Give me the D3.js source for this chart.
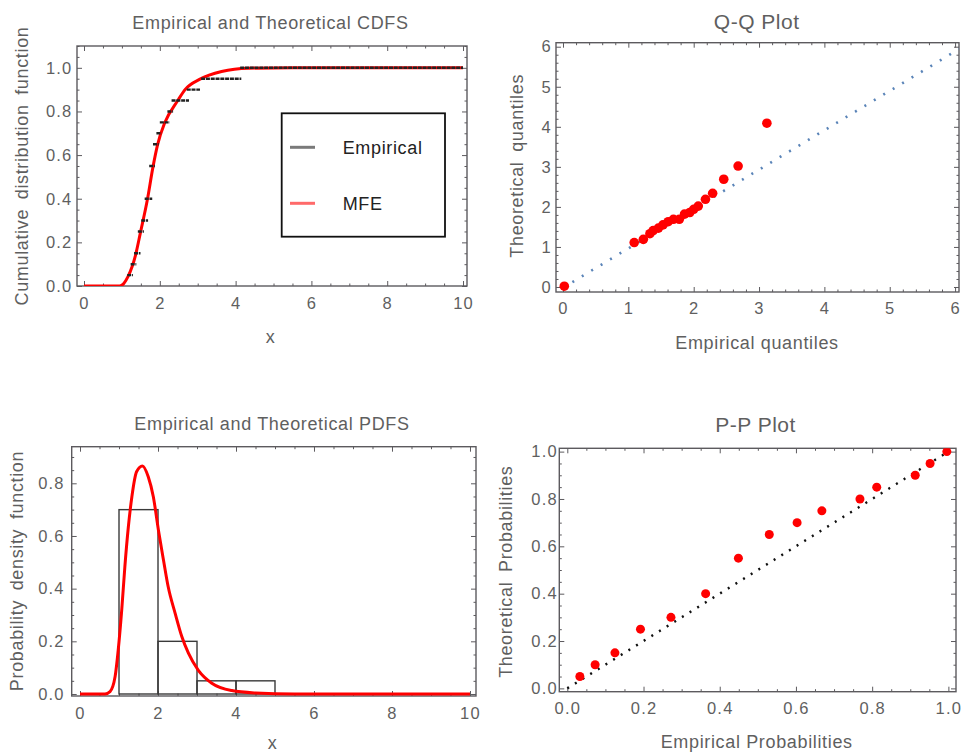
<!DOCTYPE html>
<html>
<head>
<meta charset="utf-8">
<script src="https://cdn.jsdelivr.net/npm/d3@7"></script>
<style>
body { margin: 0; background: #fff; }
text { font-family: "Liberation Sans", Arial, sans-serif; }
</style>
</head>
<body>
<div id="main_content"></div>
<script>
// ---- data ----
// empirical cdf steps
var stepStart = [1.14, 1.23, 1.32, 1.42, 1.51, 1.60, 1.72, 1.82, 1.91, 2.00, 2.20, 2.31, 2.71, 3.09, 4.12];
var stepEnd   = [1.29, 1.38, 1.49, 1.58, 1.69, 1.80, 1.87, 1.97, 2.04, 2.26, 2.35, 2.77, 3.06, 4.15, 10.0];
var stepLevel = [0.05, 0.10, 0.15, 0.25, 0.30, 0.40, 0.55, 0.65, 0.70, 0.75, 0.80, 0.85, 0.90, 0.95, 1.00];

// fitted (MFE) cdf
var cdfX = [0, 0.94, 1.05, 1.16, 1.36, 1.49, 1.67, 1.82, 1.94, 2.13, 2.47, 2.66, 3.06, 3.63, 4.34, 5.5, 10];
var cdfY = [0, 0, 0.012, 0.043, 0.142, 0.246, 0.394, 0.546, 0.647, 0.748, 0.849, 0.899, 0.948, 0.983, 0.998, 1.0, 1.0];

// fitted pdf
var pdfX = [0, 0.64, 0.77, 0.90, 0.98, 1.07, 1.15, 1.24, 1.33, 1.45, 1.60, 1.75, 1.88, 2.01, 2.14, 2.26, 2.44, 2.61, 2.78, 3.03, 3.38, 3.89, 4.5, 5.5, 10];
var pdfY = [0, 0, 0.009, 0.066, 0.167, 0.319, 0.483, 0.635, 0.749, 0.844, 0.866, 0.825, 0.749, 0.623, 0.509, 0.408, 0.306, 0.218, 0.155, 0.091, 0.041, 0.013, 0.004, 0, 0];

// histogram
var binLo = [1, 2, 3, 4];
var binHi = [2, 3, 4, 5];
var binDensity = [0.70, 0.20, 0.05, 0.05];

// Q-Q
var qqEmp  = [0.02, 1.09, 1.23, 1.33, 1.38, 1.46, 1.53, 1.61, 1.69, 1.78, 1.86, 1.94, 2.00, 2.07, 2.18, 2.29, 2.46, 2.68, 3.12];
var qqTheo = [0.02, 1.11, 1.19, 1.33, 1.41, 1.47, 1.55, 1.63, 1.69, 1.69, 1.82, 1.86, 1.94, 2.02, 2.19, 2.34, 2.69, 3.02, 4.09];
var qqLineX = [0, 6.06];
var qqLineY = [-0.02, 5.94];

// P-P
var ppEmp  = [0.033, 0.073, 0.125, 0.192, 0.272, 0.363, 0.449, 0.530, 0.603, 0.668, 0.768, 0.812, 0.913, 0.952, 0.996];
var ppTheo = [0.05, 0.10, 0.15, 0.25, 0.30, 0.40, 0.55, 0.65, 0.70, 0.75, 0.80, 0.85, 0.90, 0.95, 1.00];
var ppLineX = [0, 1];
var ppLineY = [0, 1];

// tick labels
var xTicks10 = [0, 2, 4, 6, 8, 10];
var cdfYTicks = [0, 0.2, 0.4, 0.6, 0.8, 1.0];
var pdfYTicks = [0, 0.2, 0.4, 0.6, 0.8];
var qqTicks = [0, 1, 2, 3, 4, 5, 6];
var ppTicks = [0, 0.2, 0.4, 0.6, 0.8, 1.0];

var legendLabels = ['Empirical', 'MFE'];

// ---- drawing ----
var width = 961, height = 753;
var textColor = '#5f5f5f', frameColor = '#5c5a5e';

var svg = d3.select('#main_content').append('svg')
  .attr('width', width)
  .attr('height', height)
  .style('background', 'white');

function steps(a, b, s) {
  return d3.range(Math.round((b - a) / s) + 1).map(function(i) { return +(a + i * s).toFixed(4); });
}

function side(g, axisFn, scale, tr, majors, minors, fmt, pad) {
  var isMajor = function(v) { return majors.some(function(m) { return Math.abs(m - v) < 1e-6; }); };
  var mg = g.append('g').attr('transform', tr)
    .call(axisFn(scale).tickValues(minors.filter(function(v) { return !isMajor(v); })).tickSize(-2.5).tickFormat(''));
  mg.select('.domain').remove();
  mg.selectAll('line').attr('stroke', frameColor);
  var ag = g.append('g').attr('transform', tr)
    .call(axisFn(scale).tickValues(majors).tickSize(-5).tickPadding(pad || 0).tickFormat(fmt || ''));
  ag.select('.domain').remove();
  ag.selectAll('line').attr('stroke', frameColor);
  ag.attr('font-size', 16.5).attr('font-family', null)
    .selectAll('text').attr('fill', textColor).style('letter-spacing', '1.2px');
}

function panel(x, y, o) {
  var g = svg.append('g');
  var x0 = x.range()[0], x1 = x.range()[1], y0 = y.range()[0], y1 = y.range()[1];
  side(g, d3.axisBottom, x, 'translate(0,' + y0 + ')', o.xMajor, o.xMinor, o.xFmt, o.xPad);
  side(g, d3.axisTop, x, 'translate(0,' + y1 + ')', o.xMajor, o.xMinor, null, 0);
  side(g, d3.axisLeft, y, 'translate(' + x0 + ',0)', o.yMajor, o.yMinor, o.yFmt, o.yPad);
  side(g, d3.axisRight, y, 'translate(' + x1 + ',0)', o.yMajor, o.yMinor, null, 0);
  g.append('rect')
    .attr('x', x0).attr('y', y1).attr('width', x1 - x0).attr('height', y0 - y1)
    .attr('fill', 'none').attr('stroke', frameColor).attr('stroke-width', 1.4);

  svg.append('clipPath').attr('id', o.id)
    .append('rect').attr('x', x0).attr('y', y1).attr('width', x1 - x0).attr('height', y0 - y1);
  var plot = svg.append('g').attr('clip-path', 'url(#' + o.id + ')');

  svg.append('text').attr('x', o.title[1]).attr('y', o.title[2])
    .attr('text-anchor', 'middle').attr('font-size', o.title[3]).attr('fill', textColor)
    .style('letter-spacing', o.title[4] + 'px').text(o.title[0]);
  svg.append('text').attr('x', o.xLabel[1]).attr('y', o.xLabel[2])
    .attr('text-anchor', 'middle').attr('font-size', 18).attr('fill', textColor)
    .style('letter-spacing', '0.65px').text(o.xLabel[0]);
  svg.append('text')
    .attr('transform', 'translate(' + o.yLabel[1] + ',' + o.yLabel[2] + ') rotate(-90)')
    .attr('text-anchor', 'middle').attr('font-size', 18).attr('fill', textColor)
    .style('letter-spacing', '0.65px').style('word-spacing', o.yLabel[3] + 'px').text(o.yLabel[0]);
  return plot;
}

var f1 = d3.format('.1f'), f0 = d3.format('d');

// ---- CDF panel ----
var xC = d3.scaleLinear().domain([-0.185, 10.105]).range([77, 467]);
var yC = d3.scaleLinear().domain([0, 1.1]).range([286, 46]);
var pC = panel(xC, yC, {
  id: 'clipC', xMajor: xTicks10, xMinor: steps(0, 10, 0.5), xFmt: f0, xPad: 11,
  yMajor: cdfYTicks, yMinor: steps(0, 1.1, 0.05), yFmt: f1, yPad: 4.5,
  title: ['Empirical and Theoretical CDFS', 270.5, 29, 18, 0.65],
  xLabel: ['x', 270.7, 343], yLabel: ['Cumulative distribution function', 28, 166, 4]
});

var line = d3.line().curve(d3.curveMonotoneX);

pC.append('path')
  .attr('d', line(cdfX.map(function(v, i) { return [xC(v), yC(cdfY[i])]; })))
  .attr('fill', 'none').attr('stroke', '#ff0000').attr('stroke-width', 3);

pC.selectAll('line.step').data(stepLevel).enter().append('line')
  .attr('class', 'step')
  .attr('x1', function(d, i) { return xC(stepStart[i]); })
  .attr('x2', function(d, i) { return xC(stepEnd[i]); })
  .attr('y1', function(d) { return yC(d); })
  .attr('y2', function(d) { return yC(d); })
  .attr('stroke', '#222').attr('stroke-width', 2.4).attr('stroke-dasharray', '4,0.8');

// legend
var lg = svg.append('g');
lg.append('rect').attr('x', 281.7).attr('y', 113.3).attr('width', 163.3).attr('height', 123.4)
  .attr('fill', 'white').attr('stroke', '#111').attr('stroke-width', 1.8);
var legendColor = ['#7a7a7a', '#ff6a6a'];
legendLabels.forEach(function(lab, i) {
  var ly = 147.3 + i * 56;
  lg.append('line').attr('x1', 290).attr('x2', 315).attr('y1', ly).attr('y2', ly)
    .attr('stroke', legendColor[i]).attr('stroke-width', 3);
  lg.append('text').attr('x', 342.7).attr('y', ly + 6.5).attr('font-size', 18)
    .attr('fill', '#222').style('letter-spacing', '0.65px').text(lab);
});

// ---- Q-Q panel ----
var xQ = d3.scaleLinear().domain([-0.107, 6.06]).range([556, 959]);
var yQ = d3.scaleLinear().domain([-0.125, 6.1]).range([292, 42.7]);
var pQ = panel(xQ, yQ, {
  id: 'clipQ', xMajor: qqTicks, xMinor: steps(0, 6, 0.2), xFmt: f0, xPad: 10,
  yMajor: qqTicks, yMinor: steps(0, 6, 0.2), yFmt: f0, yPad: 4,
  title: ['Q-Q Plot', 756.7, 29, 21, 0.5],
  xLabel: ['Empirical quantiles', 757, 349], yLabel: ['Theoretical quantiles', 522.5, 165.8, 4]
});
pQ.append('line')
  .attr('x1', xQ(qqLineX[0])).attr('y1', yQ(qqLineY[0]))
  .attr('x2', xQ(qqLineX[1])).attr('y2', yQ(qqLineY[1]))
  .attr('stroke', '#5a84b8').attr('stroke-width', 2.6).attr('stroke-dasharray', '2,9');
pQ.selectAll('circle').data(qqEmp).enter().append('circle')
  .attr('cx', function(d) { return xQ(d); })
  .attr('cy', function(d, i) { return yQ(qqTheo[i]); })
  .attr('r', 4.8).attr('fill', '#ff0000');

// ---- PDF panel ----
var xP = d3.scaleLinear().domain([-0.213, 10.154]).range([71.7, 476]);
var yP = d3.scaleLinear().domain([-0.0076, 0.939]).range([696, 446.7]);
var pP = panel(xP, yP, {
  id: 'clipP', xMajor: xTicks10, xMinor: steps(0, 10, 0.5), xFmt: f0, xPad: 11,
  yMajor: pdfYTicks, yMinor: steps(0, 0.9, 0.05), yFmt: f1, yPad: 7,
  title: ['Empirical and Theoretical PDFS', 272, 430, 18, 0.65],
  xLabel: ['x', 272.7, 749], yLabel: ['Probability density function', 23, 571, 4]
});
pP.selectAll('rect.bin').data(binDensity).enter().append('rect')
  .attr('class', 'bin')
  .attr('x', function(d, i) { return xP(binLo[i]); })
  .attr('width', function(d, i) { return xP(binHi[i]) - xP(binLo[i]); })
  .attr('y', function(d) { return yP(d); })
  .attr('height', function(d) { return yP(0) - yP(d); })
  .attr('fill', 'none').attr('stroke', '#3a3a3a').attr('stroke-width', 1.4);
pP.append('path')
  .attr('d', line(pdfX.map(function(v, i) { return [xP(v), yP(pdfY[i])]; })))
  .attr('fill', 'none').attr('stroke', '#ff0000').attr('stroke-width', 3);

// ---- P-P panel ----
var xR = d3.scaleLinear().domain([-0.021, 1.02]).range([559.3, 956]);
var yR = d3.scaleLinear().domain([-0.014, 1.014]).range([691.7, 448.3]);
var pR = panel(xR, yR, {
  id: 'clipR', xMajor: ppTicks, xMinor: steps(0, 1, 0.05), xFmt: f1, xPad: 11,
  yMajor: ppTicks, yMinor: steps(0, 1, 0.05), yFmt: f1, yPad: 1.5,
  title: ['P-P Plot', 755.5, 432, 21, 0.5],
  xLabel: ['Empirical Probabilities', 756.7, 748], yLabel: ['Theoretical Probabilities', 511.5, 571.7, 4]
});
pR.append('line')
  .attr('x1', xR(ppLineX[0])).attr('y1', yR(ppLineY[0]))
  .attr('x2', xR(ppLineX[1])).attr('y2', yR(ppLineY[1]))
  .attr('stroke', '#111').attr('stroke-width', 2.4).attr('stroke-dasharray', '2,7');
pR.selectAll('circle').data(ppEmp).enter().append('circle')
  .attr('cx', function(d) { return xR(d); })
  .attr('cy', function(d, i) { return yR(ppTheo[i]); })
  .attr('r', 4.5).attr('fill', '#ff0000');
</script>
</body>
</html>
